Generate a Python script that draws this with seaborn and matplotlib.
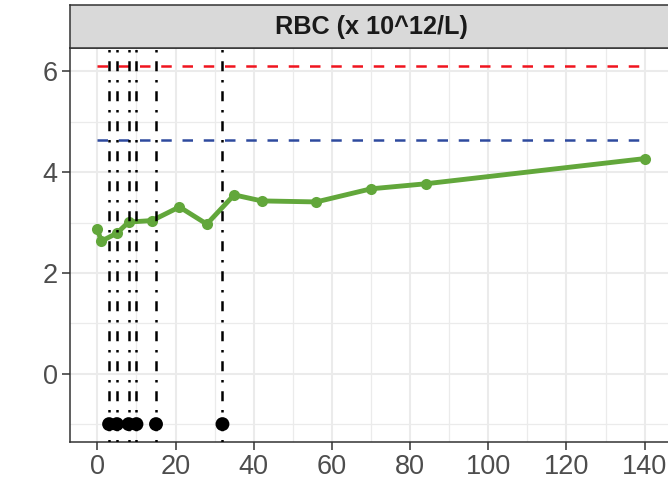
import matplotlib
matplotlib.use("Agg")
import matplotlib.pyplot as plt
import seaborn as sns
import pandas as pd
import numpy as np

# ---- data ----
days = [0, 1, 5, 8, 14, 21, 28, 35, 42, 56, 70, 84, 140]
rbc = [2.87, 2.63, 2.79, 3.01, 3.04, 3.31, 2.97, 3.55, 3.43, 3.41, 3.67, 3.77, 4.27]
event_days = [3, 5, 8, 10, 15, 32]
event_level = [-1, -1, -1, -1, -1, -1]
upper_limit = 6.1
lower_limit = 4.63
ref_x = [0, 140]
strip_title = "RBC (x 10^12/L)"
x_ticks = [0, 20, 40, 60, 80, 100, 120, 140]
y_ticks = [0, 2, 4, 6]

green = "#62A73B"
red = "#F0141E"
blue = "#2E4A9E"

sns.set_theme(style="white")
plt.rcParams['font.family'] = ['Liberation Sans', 'DejaVu Sans']

DPI = 100
W, H = 668, 486
fig = plt.figure(figsize=(W / DPI, H / DPI), dpi=DPI)


def px(l, t, r, b):
    return [l / W, 1 - b / H, (r - l) / W, (b - t) / H]


ax = fig.add_axes(px(70, 48.5, 672, 442))
ax.set_facecolor("white")

df = pd.DataFrame({"day": days, "rbc": rbc})
ev = pd.DataFrame({"day": event_days, "level": event_level})

# reference range segments
ax.plot(ref_x, [upper_limit, upper_limit], color=red, lw=1.8,
        linestyle=(0, (4.2, 4.3)), zorder=2)
ax.plot(ref_x, [lower_limit, lower_limit], color=blue, lw=1.8,
        linestyle=(0, (4.2, 4.3)), zorder=2)

sns.lineplot(data=df, x="day", y="rbc", color=green, lw=3.5, marker="o",
             markersize=8.0, markeredgewidth=0, ax=ax, zorder=3)

for d in event_days:
    ax.axvline(d, color="black", lw=1.8, linestyle=(0, (1.0, 3.5, 4.0, 3.5)),
               zorder=4)

sns.scatterplot(data=ev, x="day", y="level", color="black", s=100,
                edgecolor="none", ax=ax, zorder=5)

ax.set_xticks(x_ticks)
ax.set_yticks(y_ticks)
ax.set_xticks([t + 10 for t in [-20] + x_ticks], minor=True)
ax.set_yticks([t + 1 for t in [-2] + y_ticks], minor=True)
ax.set_xlabel("")
ax.set_ylabel("")

# limits with 5% expansion like ggplot (set after ticks)
xmin, xmax = min(days + event_days), max(days + event_days + ref_x)
ymin = min(event_level + rbc)
ymax = max(rbc + [upper_limit, lower_limit])
xr, yr = xmax - xmin, ymax - ymin
ax.set_xlim(xmin - 0.05 * xr, xmax + 0.05 * xr)
ax.set_ylim(ymin - 0.05 * yr, ymax + 0.05 * yr)

ax.grid(which="major", color="#EBEBEB", lw=1.5, zorder=0)
ax.grid(which="minor", color="#EBEBEB", lw=0.9, zorder=0)
ax.set_axisbelow(True)
ax.tick_params(which="major", length=5.8, width=1.1, color="#333333",
               labelsize=19.5, labelcolor="#4D4D4D", pad=3,
               bottom=True, left=True)
ax.tick_params(which="minor", length=0)
for s in ax.spines.values():
    s.set_color("#333333")
    s.set_linewidth(1.1)
    s.set_visible(True)

# facet strip
sax = fig.add_axes(px(70, 5, 672, 48.5))
sax.set_facecolor("#D9D9D9")
sax.set_xticks([])
sax.set_yticks([])
for s in sax.spines.values():
    s.set_color("#333333")
    s.set_linewidth(1.1)
    s.set_visible(True)
sax.text(0.5, 0.5, strip_title, transform=sax.transAxes, ha="center",
         va="center", fontsize=18.2, fontweight="bold", color="#1A1A1A")

fig.savefig("out.png", dpi=DPI)
